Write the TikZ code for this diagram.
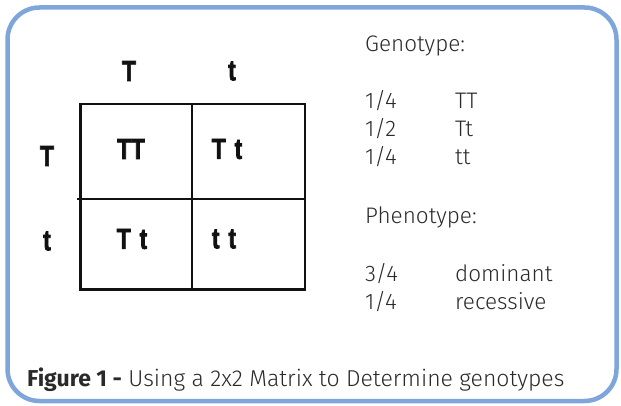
\documentclass[tikz,border=0pt]{standalone}
\usepackage{fontspec}
\newfontfamily\lightfont{Fira Sans Light}
\newfontfamily\capfont{Fira Sans Bold}
\newfontfamily\gridfont[FakeStretch=0.78,FakeBold=2.4]{Liberation Sans Bold}
\definecolor{frameblue}{HTML}{7EA6DA}
\definecolor{gridink}{HTML}{111111}
\definecolor{textink}{HTML}{2A2A2A}
\newcommand\gap{\hspace{9pt}}
\tikzset{
  frame/.style={draw=frameblue, line width=4.5pt, rounded corners=32pt},
  gridline/.style={draw=gridink, line width=2.4pt},
  allele/.style={font=\gridfont\fontsize{29}{29}\selectfont, inner sep=0pt, text=gridink},
  note/.style={font=\lightfont\fontsize{22.5}{26}\selectfont, anchor=base west, inner sep=0pt, text=textink},
  caption/.style={font=\lightfont\fontsize{23}{26}\selectfont, anchor=base west, inner sep=0pt, text=textink},
}
\begin{document}
\begin{tikzpicture}[x=1pt,y=-1pt]
\useasboundingbox (0,0) rectangle (621,406);
% outer rounded frame
\draw[frame] (7.5,7.5) rectangle (616.5,401);
% Punnett square
\coordinate (sqTL) at (80.5,104);
\coordinate (sqBR) at (305,289.5);
\coordinate (midTop) at (192,104);
\coordinate (midBot) at (192,290);
\coordinate (rowL) at (77,199);
\coordinate (rowR) at (305,199);
\draw[gridline] (sqTL) rectangle (sqBR);
\draw[gridline] (midTop) -- (midBot);
\draw[gridline] (rowL) -- (rowR);
% parental alleles
\node[allele] (colA) at (129,71) {T};
\node[allele] (colB) at (232,71) {t};
\node[allele] (rowA) at (47,156) {T};
\node[allele] (rowB) at (47,241) {t};
% offspring genotypes
\node[allele] (c11) at (131,149) {TT};
\node[allele] (c12) at (227,149) {T\gap{}t};
\node[allele] (c21) at (132,239) {T\gap{}t};
\node[allele] (c22) at (224,239) {t\gap{}t};
% ratios
\node[note] (gh) at (365,52) {Genotype:};
\node[note] (g1) at (365,109) {1/4};
\node[note] (g1t) at (455,109) {TT};
\node[note] (g2) at (365,137) {1/2};
\node[note] (g2t) at (455,137) {Tt};
\node[note] (g3) at (365,165) {1/4};
\node[note] (g3t) at (455,165) {tt};
\node[note] (ph) at (365,223) {Phenotype:};
\node[note] (p1) at (365,281) {3/4};
\node[note] (p1t) at (455,281) {dominant};
\node[note] (p2) at (365,309) {1/4};
\node[note] (p2t) at (455,309) {recessive};
% caption
\node[caption] (cap) at (27,386) {{\capfont Figure 1 -} Using a 2x2 Matrix to Determine genotypes};
\end{tikzpicture}
\end{document}
